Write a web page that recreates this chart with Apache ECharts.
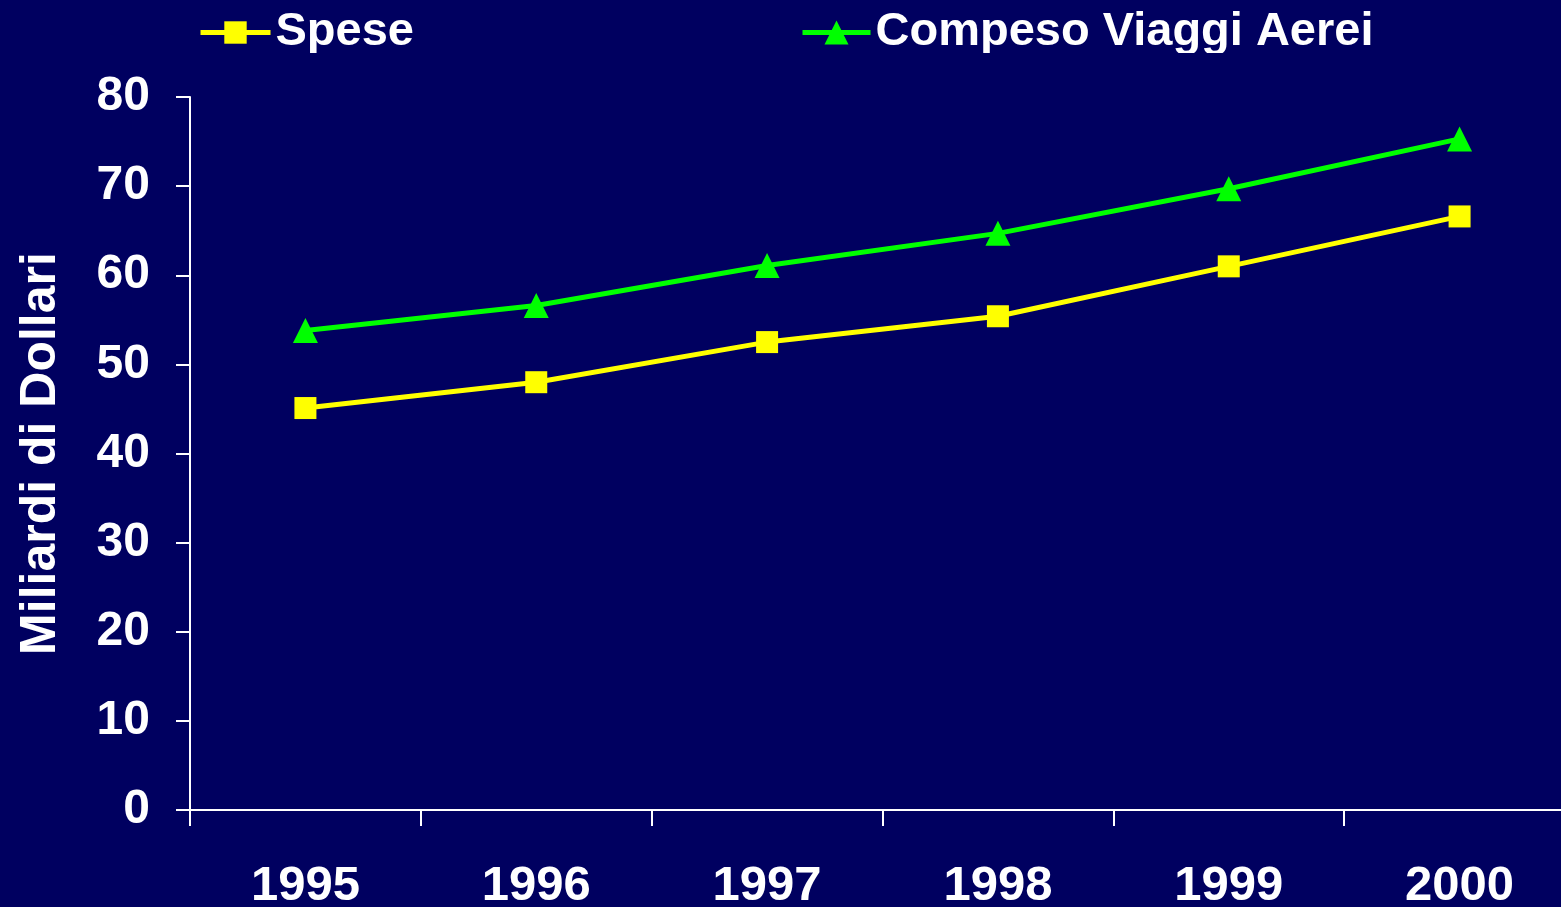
<!DOCTYPE html>
<html><head><meta charset="utf-8">
<script src="https://cdn.jsdelivr.net/npm/echarts@6/dist/echarts.min.js"></script>
<style>html,body{margin:0;padding:0;background:#000060;}#c{width:1561px;height:907px;}</style>
</head><body><div id="c"></div>
<script>
const years = ['1995','1996','1997','1998','1999','2000'];
const spese = [45.1, 48.0, 52.5, 55.4, 61.0, 66.6];
const viaggi = [53.8, 56.6, 61.1, 64.7, 69.7, 75.3];
const yTicks = [0, 10, 20, 30, 40, 50, 60, 70, 80];
const yTitle = 'Miliardi di Dollari';
const nameSpese = 'Spese';
const nameViaggi = 'Compeso Viaggi Aerei';

const F = '"Liberation Sans", Arial, sans-serif';
const chart = echarts.init(document.getElementById('c'));
chart.setOption({
  backgroundColor: '#000060',
  animation: false,
  legend: [
    { data: [nameSpese], left: 193, top: 4, itemWidth: 70, itemHeight: 28, itemGap: 10,
      lineStyle: { width: 5 },
      textStyle: { color: '#fff', fontFamily: F, fontWeight: 'bold', fontSize: 47 } },
    { data: [nameViaggi], left: 795, top: 4, itemWidth: 68, itemHeight: 30, itemGap: 10,
      lineStyle: { width: 5 },
      textStyle: { color: '#fff', fontFamily: F, fontWeight: 'bold', fontSize: 47 } }
  ],
  grid: { left: 190, top: 97, width: 1385, height: 713, containLabel: false, outerBoundsMode: 'none' },
  xAxis: {
    type: 'category', data: years, boundaryGap: true,
    axisLine: { lineStyle: { color: '#fff', width: 2 } },
    axisTick: { show: true, length: 16, lineStyle: { color: '#fff', width: 2 } },
    axisLabel: { color: '#fff', fontFamily: F, fontWeight: 'bold', fontSize: 49, margin: 52 },
    splitLine: { show: false }
  },
  yAxis: {
    type: 'value', min: yTicks[0], max: yTicks[yTicks.length - 1], interval: 10,
    name: yTitle, nameLocation: 'middle', nameGap: 124, nameRotate: 90,
    nameTextStyle: { color: '#fff', fontFamily: F, fontWeight: 'bold', fontSize: 50 },
    axisLine: { show: true, lineStyle: { color: '#fff', width: 2 } },
    axisTick: { show: true, length: 14, lineStyle: { color: '#fff', width: 2 } },
    axisLabel: { color: '#fff', fontFamily: F, fontWeight: 'bold', fontSize: 48, margin: 40 },
    splitLine: { show: false }
  },
  series: [
    { name: nameSpese, type: 'line', data: spese, symbol: 'rect', symbolSize: 22,
      color: '#FFFF00', lineStyle: { color: '#FFFF00', width: 5 },
      itemStyle: { color: '#FFFF00' } },
    { name: nameViaggi, type: 'line', data: viaggi, symbol: 'triangle', symbolSize: [25, 25],
      color: '#00FF00', lineStyle: { color: '#00FF00', width: 5 },
      itemStyle: { color: '#00FF00' } }
  ],
  graphic: [
    { type: 'rect', z: 100, shape: { x: 180, y: 53, width: 1300, height: 12 },
      style: { fill: '#000060' } }
  ]
});
</script></body></html>
